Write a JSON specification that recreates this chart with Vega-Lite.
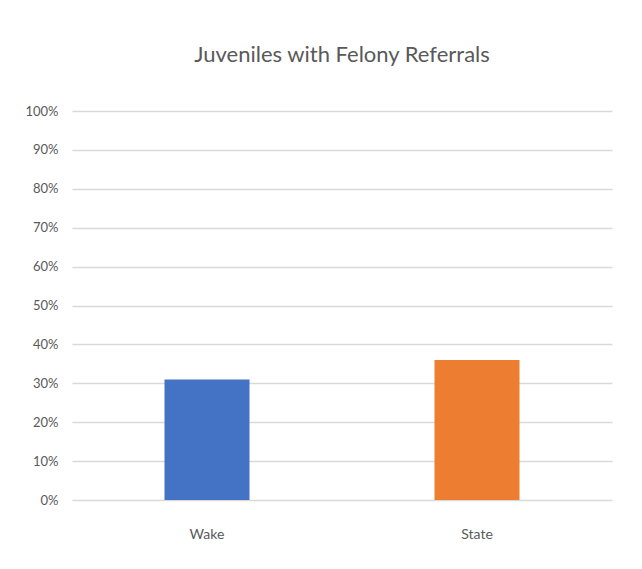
{
  "$schema": "https://vega.github.io/schema/vega-lite/v6.json",
  "width": 540,
  "height": 389,
  "autosize": {"type": "none"},
  "padding": {"left": 72, "top": 111, "right": 30, "bottom": 69},
  "background": "white",
  "title": {
    "text": "Juveniles with Felony Referrals",
    "fontSize": 22,
    "font": "Lato",
    "fontWeight": "normal",
    "color": "#595959",
    "anchor": "middle",
    "offset": 38
  },
  "data": {
    "values": [
      {"region": "Wake", "value": 0.31},
      {"region": "State", "value": 0.36}
    ]
  },
  "mark": {"type": "bar", "size": 85},
  "encoding": {
    "x": {
      "field": "region",
      "type": "nominal",
      "sort": ["Wake", "State"],
      "title": null,
      "axis": {
        "labelAngle": 0,
        "domain": false,
        "ticks": false,
        "labelPadding": 27,
        "labelFontSize": 14,
        "labelFont": "Lato",
        "labelColor": "#595959"
      }
    },
    "y": {
      "field": "value",
      "type": "quantitative",
      "scale": {"domain": [0, 1]},
      "title": null,
      "axis": {
        "format": ".0%",
        "values": [0, 0.1, 0.2, 0.3, 0.4, 0.5, 0.6, 0.7, 0.8, 0.9, 1],
        "domain": false,
        "ticks": false,
        "labelPadding": 14,
        "labelFontSize": 13,
        "labelFont": "Lato",
        "labelColor": "#595959",
        "gridColor": "#d9d9d9",
        "gridWidth": 1.5
      }
    },
    "color": {
      "field": "region",
      "type": "nominal",
      "scale": {"domain": ["Wake", "State"], "range": ["#4472c4", "#ed7d31"]},
      "legend": null
    }
  },
  "config": {"view": {"stroke": null}}
}
